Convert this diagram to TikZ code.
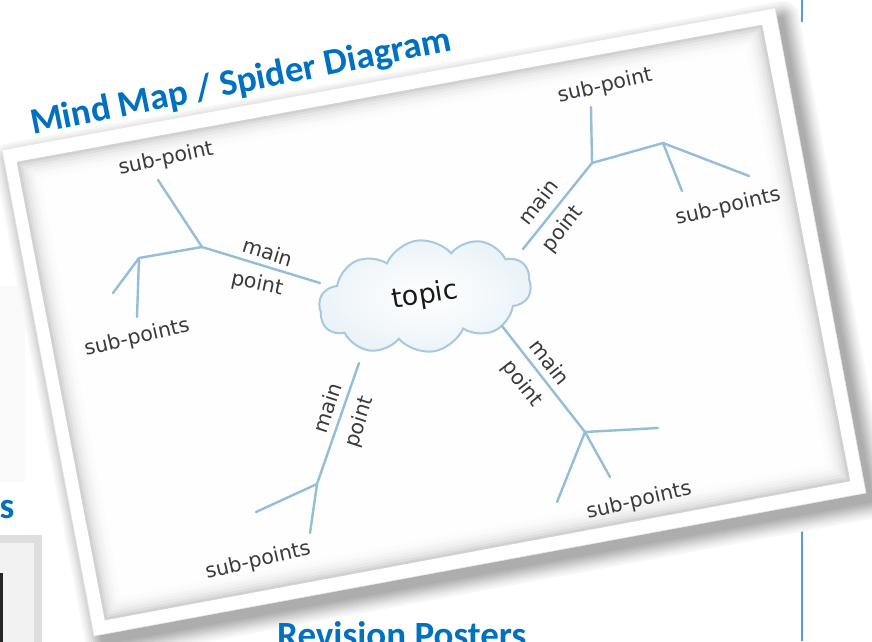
\documentclass[tikz,border=0pt]{standalone}
\usepackage{fontspec}
\setmainfont{DejaVu Sans}
\newfontfamily\titlefont{Carlito}
\usetikzlibrary{shapes.symbols}
\definecolor{titleblue}{HTML}{0070C0}
\definecolor{branchblue}{HTML}{93BDD9}
\definecolor{cloudblue}{HTML}{A5C9DF}
\definecolor{inkgrey}{HTML}{3A3A3A}
\definecolor{rulerblue}{HTML}{5B9BD5}
\begin{document}
\begin{tikzpicture}[x=1pt,y=-1pt,
  hand/.style={font=\fontsize{20.5}{20.5}\selectfont, text=inkgrey, inner sep=0pt},
  branch/.style={draw=branchblue, line width=2.4pt, line cap=round, line join=round},
  titletext/.style={font=\titlefont\bfseries\fontsize{37}{37}\selectfont, text=titleblue, inner sep=0pt},
  topicstyle/.style={cloud, cloud puffs=10, cloud puff arc=115, aspect=2.0,
     minimum width=214pt, minimum height=112pt, draw=cloudblue, line width=2pt,
     inner color=white, outer color=cloudblue!22, text=black!90,
     font=\fontsize{27}{27}\selectfont}
]
\useasboundingbox (0,0) rectangle (872,641);
\clip (0,0) rectangle (872,641);
\fill[white] (0,0) rectangle (872,641);

% faint area on the left
\fill[black!2.5] (0,286) rectangle (25,482);

% bottom-left box
\fill[black!13] (-5,535) rectangle (42,650);
\fill[black!5] (-5,543) rectangle (34,650);
\fill[black!85] (-2,573) rectangle (2.7,650);

% blue rule on the right
\draw[rulerblue, line width=1.8pt] (802,0) -- (802,22);
\draw[rulerblue, line width=1.8pt] (802,525) -- (802,641);

% drop shadow of the card
\begin{scope}[shift={(8,9)}]
  \foreach \w/\c in {32/3,28/6,24/9,20/13,16/17,12/21,8/25,4/29} {
    \draw[line width=\w pt, line join=round, color=black!\c]
      (2,150) -- (775,8) -- (866,493) -- (94,636) -- cycle;
  }
  \fill[black!32] (2,150) -- (775,8) -- (866,493) -- (94,636) -- cycle;
\end{scope}

% white frame
\fill[white] (2,150) -- (775,8) -- (866,493) -- (94,636) -- cycle;
\draw[black!10, line width=0.6pt] (2,150) -- (775,8) -- (866,493) -- (94,636) -- cycle;

% photo area with inner shadow
\fill[black!0.5] (17,162) -- (762,25) -- (850,481) -- (105,620) -- cycle;
\begin{scope}
  \clip (17,162) -- (762,25) -- (850,481) -- (105,620) -- cycle;
  \foreach \w/\c in {40/1,34/2,28/4,22/6,16/9,10/13,5/18} {
    \draw[line width=\w pt, line join=round, color=black!\c]
      (17,162) -- (762,25) -- (850,481) -- (105,620) -- cycle;
  }
\end{scope}

% topic cloud
\node[topicstyle, rotate=9] (topic) at (425,296) {topic};

% branch points
\coordinate (lA) at (320,283);
\coordinate (lJ) at (202,247);
\coordinate (lS) at (158,180);
\coordinate (lK) at (139,258);
\coordinate (lD) at (137,317);
\coordinate (lE) at (113,293);

\coordinate (tA) at (523,249);
\coordinate (tJ) at (592,163);
\coordinate (tS) at (591,107);
\coordinate (tK) at (663,143);
\coordinate (tD) at (682,191);
\coordinate (tE) at (749,176);

\coordinate (bA) at (359,363);
\coordinate (bJ) at (317,484);
\coordinate (bD) at (310,533);
\coordinate (bE) at (256,512);

\coordinate (rA) at (502,326);
\coordinate (rJ) at (585,432);
\coordinate (rD) at (658,428);
\coordinate (rE) at (610,477);
\coordinate (rF) at (557,502);

% branches
\draw[branch] (lA) -- (lJ) -- (lS);
\draw[branch] (lJ) -- (lK) -- (lD);
\draw[branch] (lK) -- (lE);

\draw[branch] (tA) -- (tJ) -- (tS);
\draw[branch] (tJ) -- (tK) -- (tD);
\draw[branch] (tK) -- (tE);

\draw[branch] (bA) -- (bJ) -- (bD);
\draw[branch] (bJ) -- (bE);

\draw[branch] (rA) -- (rJ) -- (rD);
\draw[branch] (rJ) -- (rE);
\draw[branch] (rJ) -- (rF);

% labels
\node[hand, rotate=12]  (lsp)    at (166,159) {sub-point};
\node[hand, rotate=13]  (lsps)   at (137,338) {sub-points};
\node[hand, rotate=-17] (lmain)  at (268,252) {main};
\node[hand, rotate=-12] (lpoint) at (257,284) {point};

\node[hand, rotate=13]  (tsp)    at (605,86)  {sub-point};
\node[hand, rotate=13]  (tsps)   at (728,207) {sub-points};
\node[hand, rotate=52]  (tmain)  at (538,202) {main};
\node[hand, rotate=52]  (tpoint) at (563,229) {point};

\node[hand, rotate=72]  (bmain)  at (327,408) {main};
\node[hand, rotate=72]  (bpoint) at (360,422) {point};
\node[hand, rotate=13]  (bsps)   at (258,561) {sub-points};

\node[hand, rotate=-52] (rmain)  at (550,362) {main};
\node[hand, rotate=-52] (rpoint) at (522,384) {point};
\node[hand, rotate=13]  (rsps)   at (639,501) {sub-points};

% headings
\node[titletext, rotate=11.4, anchor=base west] (title) at (33,135) {Mind Map / Spider Diagram};
\node[titletext, anchor=base west] (rev) at (277,647) {Revision Posters};
\node[titletext, anchor=base west] (sfrag) at (-0.5,518) {s};
\end{tikzpicture}
\end{document}
